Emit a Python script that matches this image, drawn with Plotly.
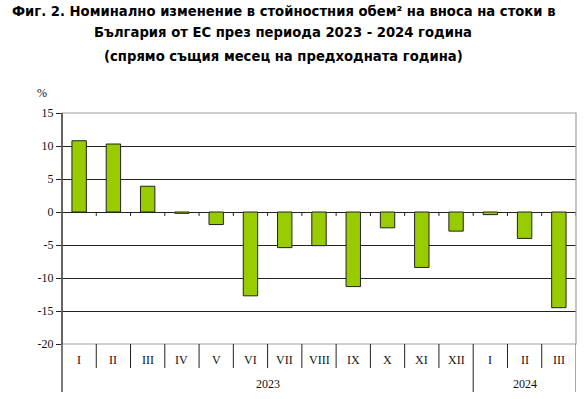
import plotly.graph_objects as go

months = ["I", "II", "III", "IV", "V", "VI", "VII", "VIII", "IX", "X", "XI", "XII", "I", "II", "III"]
years = ["2023", "2024"]
year_counts = [12, 3]
values = [10.8, 10.3, 3.9, -0.2, -1.9, -12.7, -5.4, -5.1, -11.3, -2.4, -8.4, -2.9, -0.4, -4.0, -14.5]
y_ticks = [15, 10, 5, 0, -5, -10, -15, -20]

title_lines = [
    "Фиг. 2. Номинално изменение в стойностния обем² на вноса на стоки в",
    "България от ЕС през периода 2023 - 2024 година",
    "(спрямо същия месец на предходната година)",
]

W, H = 587, 399
ml, mr, mt, mb = 62, 11, 113, 55
plot_h = H - mt - mb
plot_w = W - ml - mr

def py(px_below):
    return -px_below / plot_h

xs = list(range(len(values)))
fig = go.Figure()
fig.add_trace(go.Bar(
    x=xs, y=values, width=0.42,
    marker=dict(color="#99CC00", line=dict(color="#222222", width=1)),
    hoverinfo="skip",
))

shapes = []
n = len(values)
for i in range(1, n + 1):
    shapes.append(dict(type="line", xref="x", yref="y", x0=i - 0.5, x1=i - 0.5,
                       y0=0, y1=-0.6, line=dict(color="#222222", width=1), layer="above"))
shapes.append(dict(type="rect", xref="paper", yref="paper", x0=0, x1=1, y0=0, y1=1,
                   line=dict(color="#A0A0A0", width=1.2), layer="above"))
boundaries = []
acc = 0
for c in year_counts:
    acc += c
    boundaries.append(acc)
for i in range(1, n):
    long = i in boundaries
    shapes.append(dict(type="line", xref="x", yref="paper", x0=i - 0.5, x1=i - 0.5,
                       y0=0, y1=py(48 if long else 24),
                       line=dict(color="#222222", width=1)))
shapes.append(dict(type="line", xref="x", yref="paper", x0=n - 0.5, x1=n - 0.5,
                   y0=0, y1=py(48), line=dict(color="#555555", width=1)))
shapes.append(dict(type="line", xref="paper", yref="paper", x0=0, x1=0,
                   y0=1, y1=py(48), line=dict(color="#222222", width=1.2), layer="above"))

annotations = []
lab_font = dict(family="Liberation Serif", size=12, color="#111111")
for i, m in enumerate(months):
    annotations.append(dict(x=i, y=py(16), xref="x", yref="paper", text=m, showarrow=False,
                            font=lab_font, xanchor="center", yanchor="middle"))
start = 0
for yr, c in zip(years, year_counts):
    annotations.append(dict(x=start + (c - 1) / 2, y=py(40), xref="x", yref="paper", text=yr,
                            showarrow=False, font=lab_font, xanchor="center", yanchor="middle"))
    start += c
annotations.append(dict(x=(42 - ml) / plot_w, y=1 + (mt - 93) / plot_h, xref="paper",
                        yref="paper", text="%", showarrow=False, xanchor="center",
                        yanchor="middle", font=lab_font))

title_pos = [(283, 11), (283, 33), (283, 56)]
for t, (cx, cy) in zip(title_lines, title_pos):
    annotations.append(dict(x=(cx - ml) / plot_w, y=1 + (mt - cy) / plot_h,
                            xref="paper", yref="paper", text="<b>" + t + "</b>",
                            showarrow=False, xanchor="center", yanchor="middle",
                            font=dict(family="DejaVu Sans", size=13.2, color="#000000")))

fig.update_layout(
    width=W, height=H,
    margin=dict(l=ml, r=mr, t=mt, b=mb),
    paper_bgcolor="white", plot_bgcolor="white",
    showlegend=False,
    xaxis=dict(range=[-0.5, n - 0.5], showticklabels=False, showgrid=False,
               zeroline=False, showline=False, ticks=""),
    yaxis=dict(range=[-20, 15], tickvals=y_ticks, ticktext=[str(v) for v in y_ticks],
               showgrid=True, gridcolor="#222222", gridwidth=1,
               zeroline=True, zerolinecolor="#222222", zerolinewidth=1,
               showline=False, ticks="outside", ticklen=5, tickcolor="#222222",
               tickfont=lab_font),
    shapes=shapes,
    annotations=annotations,
)

fig.write_html("out.html", config={"displayModeBar": False},
               post_script="document.body.style.margin='0';document.body.style.padding='0';")
